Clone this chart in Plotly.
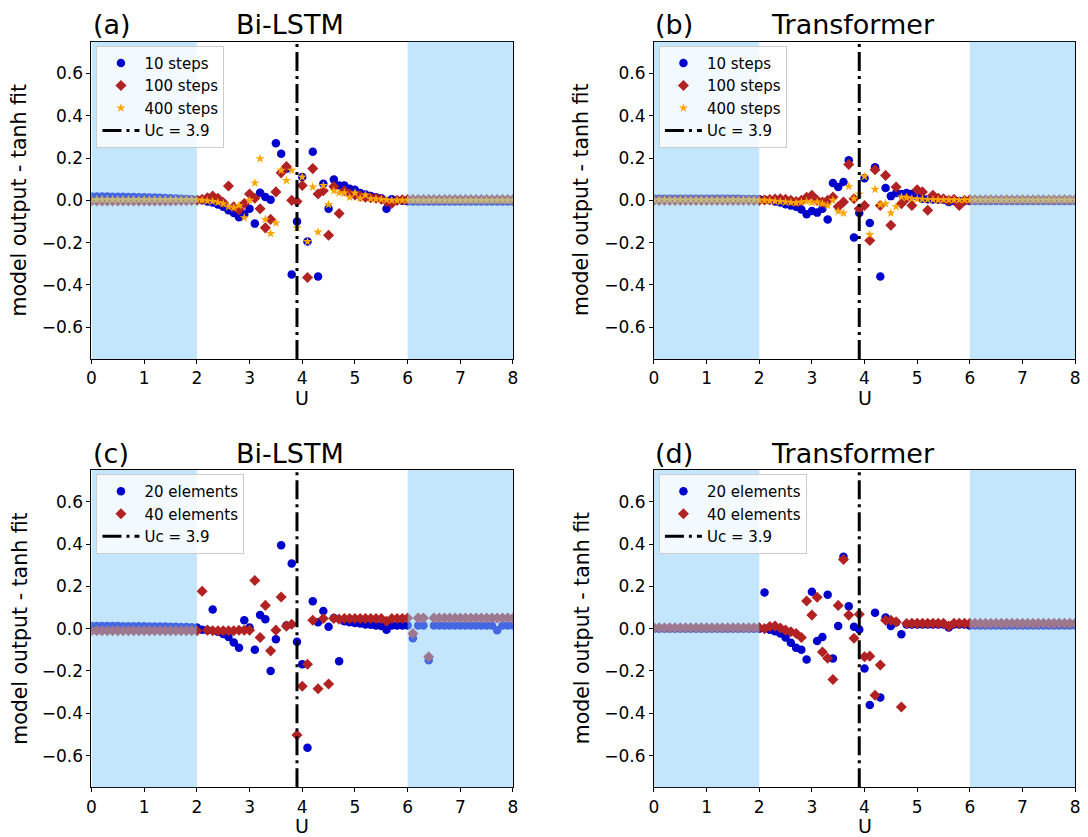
import plotly.graph_objects as go

# ---------------- data ----------------
U = [0.0, 0.1, 0.2, 0.3, 0.4, 0.5, 0.6, 0.7, 0.8, 0.9,
     1.0, 1.1, 1.2, 1.3, 1.4, 1.5, 1.6, 1.7, 1.8, 1.9,
     2.0, 2.1, 2.2, 2.3, 2.4, 2.5, 2.6, 2.7, 2.8, 2.9,
     3.0, 3.1, 3.2, 3.3, 3.4, 3.5, 3.6, 3.7, 3.8, 3.9,
     4.0, 4.1, 4.2, 4.3, 4.4, 4.5, 4.6, 4.7, 4.8, 4.9,
     5.0, 5.1, 5.2, 5.3, 5.4, 5.5, 5.6, 5.7, 5.8, 5.9,
     6.0, 6.1, 6.2, 6.3, 6.4, 6.5, 6.6, 6.7, 6.8, 6.9,
     7.0, 7.1, 7.2, 7.3, 7.4, 7.5, 7.6, 7.7, 7.8, 7.9, 8.0]
UC = 3.9

# (a) Bi-LSTM, time steps
A_10 = [0.018, 0.018, 0.018, 0.018, 0.017, 0.017, 0.017, 0.016, 0.016, 0.015,
        0.015, 0.014, 0.013, 0.012, 0.011, 0.010, 0.009, 0.008, 0.006, 0.005,
        0.003, 0.000, -0.005, -0.010, -0.020, -0.030, -0.047, -0.060, -0.080, -0.066,
        -0.040, -0.110, 0.036, 0.016, 0.003, 0.270, 0.220, 0.150, -0.350, -0.100,
        0.110, -0.195, 0.230, -0.360, 0.078, -0.040, 0.099, 0.070, 0.070, 0.055,
        0.050, 0.035, 0.028, 0.020, 0.015, 0.010, -0.040, 0.005, 0.000, -0.002,
        -0.004, -0.005, -0.005, -0.005, -0.005, -0.005, -0.005, -0.005, -0.005, -0.005,
        -0.005, -0.005, -0.005, -0.005, -0.005, -0.005, -0.005, -0.005, -0.005, -0.005, -0.005]
A_100 = [-0.003, -0.003, -0.003, -0.003, -0.003, -0.003, -0.003, -0.003, -0.003, -0.003,
         -0.003, -0.003, -0.003, -0.003, -0.003, -0.003, -0.002, -0.002, -0.002, -0.001,
         0.000, 0.005, 0.012, 0.020, 0.010, -0.010, 0.068, -0.030, -0.045, -0.015,
         0.030, 0.010, -0.040, -0.130, -0.090, 0.040, 0.130, 0.160, 0.000, -0.005,
         0.070, -0.365, 0.150, 0.030, 0.045, -0.165, 0.065, -0.062, 0.045, 0.030,
         0.025, 0.020, 0.015, 0.012, 0.010, 0.005, -0.005, -0.015, 0.000, 0.003,
         0.004, 0.004, 0.004, 0.004, 0.004, 0.004, 0.004, 0.004, 0.004, 0.004,
         0.004, 0.004, 0.004, 0.004, 0.004, 0.004, 0.004, 0.004, 0.004, 0.004, 0.004]
A_400 = [0.003, 0.003, 0.003, 0.003, 0.003, 0.003, 0.003, 0.003, 0.003, 0.003,
         0.003, 0.003, 0.003, 0.003, 0.003, 0.003, 0.003, 0.003, 0.003, 0.003,
         0.002, 0.000, -0.003, -0.005, -0.010, -0.016, -0.030, -0.035, -0.024, -0.082,
         0.000, 0.082, 0.197, -0.090, -0.157, -0.107, 0.142, 0.094, 0.142, -0.130,
         0.110, -0.195, 0.063, -0.150, 0.070, -0.020, 0.045, 0.035, 0.035, 0.015,
         0.035, 0.010, 0.025, 0.008, 0.006, 0.004, 0.002, 0.000, 0.000, 0.000,
         0.000, 0.000, 0.000, 0.000, 0.000, 0.000, 0.000, 0.000, 0.000, 0.000,
         0.000, 0.000, 0.000, 0.000, 0.000, 0.000, 0.000, 0.000, 0.000, 0.000, 0.000]

# (b) Transformer, time steps
B_10 = [0.008, 0.008, 0.008, 0.008, 0.008, 0.008, 0.008, 0.008, 0.008, 0.008,
        0.008, 0.008, 0.008, 0.008, 0.007, 0.007, 0.007, 0.006, 0.006, 0.006,
        0.005, 0.003, 0.000, -0.005, -0.010, -0.018, -0.024, -0.030, -0.043, -0.066,
        -0.050, -0.058, -0.040, -0.090, 0.082, 0.063, 0.087, 0.190, -0.176, -0.060,
        0.105, -0.107, 0.157, -0.360, 0.058, 0.020, 0.035, 0.030, 0.035, 0.030,
        0.020, 0.008, 0.005, 0.004, 0.004, 0.003, -0.008, -0.003, -0.003, -0.003,
        -0.003, -0.003, -0.003, -0.003, -0.003, -0.003, -0.003, -0.003, -0.003, -0.003,
        -0.003, -0.003, -0.003, -0.003, -0.003, -0.003, -0.003, -0.003, -0.003, -0.003, -0.003]
B_100 = [0.000, 0.000, 0.000, 0.000, 0.000, 0.000, 0.000, 0.000, 0.000, 0.000,
         0.000, 0.000, 0.000, 0.000, 0.000, 0.000, 0.000, 0.000, 0.000, 0.000,
         0.000, 0.002, 0.004, 0.006, 0.008, 0.005, 0.000, -0.005, 0.000, 0.015,
         0.024, 0.000, -0.008, 0.000, 0.016, -0.030, -0.008, 0.170, 0.008, -0.040,
         -0.024, -0.190, 0.145, -0.024, 0.118, -0.118, 0.063, -0.016, 0.010, -0.024,
         0.050, 0.040, -0.047, 0.024, 0.010, 0.008, 0.000, 0.005, -0.024, 0.000,
         0.003, 0.003, 0.003, 0.003, 0.003, 0.003, 0.003, 0.003, 0.003, 0.003,
         0.003, 0.003, 0.003, 0.003, 0.003, 0.003, 0.003, 0.003, 0.003, 0.003, 0.003]
B_400 = [0.002, 0.002, 0.002, 0.002, 0.002, 0.002, 0.002, 0.002, 0.002, 0.002,
         0.002, 0.002, 0.002, 0.002, 0.002, 0.002, 0.002, 0.002, 0.002, 0.002,
         0.000, 0.000, -0.002, -0.004, -0.006, -0.008, -0.010, -0.012, -0.008, -0.005,
         -0.010, -0.008, -0.016, -0.024, 0.000, -0.052, -0.060, 0.066, 0.008, 0.030,
         0.113, -0.162, 0.052, -0.020, -0.016, -0.060, -0.030, 0.016, 0.013, 0.008,
         0.006, 0.005, 0.004, 0.003, 0.003, 0.003, 0.002, 0.002, 0.002, 0.002,
         0.002, 0.002, 0.002, 0.002, 0.002, 0.002, 0.002, 0.002, 0.002, 0.002,
         0.002, 0.002, 0.002, 0.002, 0.002, 0.002, 0.002, 0.002, 0.002, 0.002, 0.002]

# (c) Bi-LSTM, chain elements
C_20 = [0.012, 0.012, 0.012, 0.012, 0.012, 0.012, 0.011, 0.011, 0.011, 0.011,
        0.011, 0.010, 0.010, 0.010, 0.010, 0.009, 0.009, 0.008, 0.008, 0.007,
        0.005, -0.005, -0.008, 0.090, -0.015, -0.025, -0.040, -0.065, -0.090, 0.040,
        0.005, -0.100, 0.065, 0.045, -0.200, -0.050, 0.394, 0.015, 0.308, -0.062,
        -0.168, -0.563, 0.130, 0.030, 0.083, 0.009, 0.050, -0.154, 0.035, 0.030,
        0.027, 0.024, 0.020, 0.018, 0.015, 0.013, -0.005, 0.015, 0.015, 0.015,
        0.015, -0.045, 0.015, 0.015, -0.149, 0.015, 0.015, 0.015, 0.015, 0.015,
        0.015, 0.015, 0.015, 0.015, 0.015, 0.015, 0.015, -0.007, 0.015, 0.015, 0.015]
C_40 = [-0.010, -0.010, -0.010, -0.010, -0.010, -0.010, -0.010, -0.010, -0.010, -0.010,
        -0.010, -0.010, -0.010, -0.010, -0.010, -0.010, -0.010, -0.010, -0.010, -0.010,
        -0.010, 0.177, -0.007, -0.010, -0.010, -0.010, -0.010, -0.010, -0.008, -0.008,
        -0.007, 0.228, -0.042, 0.110, -0.105, -0.007, 0.150, 0.012, 0.021, -0.503,
        -0.272, -0.168, 0.040, -0.284, 0.048, -0.262, 0.048, 0.045, 0.048, 0.048,
        0.048, 0.048, 0.048, 0.048, 0.048, 0.048, 0.035, 0.048, 0.048, 0.048,
        0.050, -0.023, 0.050, 0.050, -0.133, 0.050, 0.050, 0.050, 0.050, 0.050,
        0.050, 0.050, 0.050, 0.050, 0.050, 0.050, 0.050, 0.050, 0.050, 0.050, 0.050]

# (d) Transformer, chain elements
D_20 = [0.000, 0.000, 0.000, 0.000, 0.000, 0.000, 0.000, 0.000, 0.000, 0.000,
        0.000, 0.000, 0.000, 0.000, 0.000, 0.000, 0.000, 0.000, 0.000, 0.000,
        0.000, 0.171, -0.005, -0.012, -0.023, -0.042, -0.067, -0.090, -0.100, -0.146,
        0.174, -0.058, -0.040, 0.160, -0.141, 0.013, 0.340, 0.106, 0.009, -0.004,
        -0.188, -0.361, 0.075, -0.325, 0.053, 0.012, 0.030, -0.026, 0.020, 0.020,
        0.020, 0.020, 0.020, 0.020, 0.020, 0.020, 0.005, 0.020, 0.020, 0.020,
        0.015, 0.015, 0.015, 0.015, 0.015, 0.015, 0.015, 0.015, 0.015, 0.015,
        0.015, 0.015, 0.015, 0.015, 0.015, 0.015, 0.015, 0.015, 0.015, 0.015, 0.015]
D_40 = [0.004, 0.004, 0.004, 0.004, 0.004, 0.004, 0.004, 0.004, 0.004, 0.004,
        0.004, 0.004, 0.004, 0.004, 0.004, 0.004, 0.004, 0.004, 0.004, 0.004,
        0.005, 0.000, 0.010, 0.012, 0.003, -0.007, -0.015, -0.023, -0.042, 0.131,
        0.064, 0.148, -0.110, -0.140, -0.240, 0.110, 0.327, 0.064, -0.045, 0.068,
        -0.133, -0.130, -0.315, -0.172, 0.040, 0.040, 0.032, -0.370, 0.024, 0.025,
        0.025, 0.025, 0.025, 0.025, 0.025, 0.025, 0.012, 0.025, 0.025, 0.025,
        0.025, 0.025, 0.025, 0.025, 0.025, 0.025, 0.025, 0.025, 0.025, 0.025,
        0.025, 0.025, 0.025, 0.025, 0.025, 0.025, 0.025, 0.025, 0.025, 0.025, 0.025]

SHADED = [(0, 2), (6, 8)]
X_TICKS = [0, 1, 2, 3, 4, 5, 6, 7, 8]
Y_TICKS = [-0.6, -0.4, -0.2, 0.0, 0.2, 0.4, 0.6]
Y_RANGE = [-0.75, 0.75]

# ---------------- style ----------------
W, H = 1088, 837
FONT = "DejaVu Sans"
BLUE, RED, ORANGE = "#0000CD", "#B22222", "#FFA500"
MK = {"circle": (BLUE, 8.5), "diamond": (RED, 8.5), "star": (ORANGE, 7)}

panels = [
    dict(n="", tag="(a)", title="Bi-LSTM", box=(87.3, 512.7, 41.7, 359.0), legend="legend",
         series=[("10 steps", A_10, "circle"), ("100 steps", A_100, "diamond"), ("400 steps", A_400, "star")]),
    dict(n="2", tag="(b)", title="Transformer", box=(655.0, 1080.0, 41.7, 359.0), legend="legend2",
         series=[("10 steps", B_10, "circle"), ("100 steps", B_100, "diamond"), ("400 steps", B_400, "star")]),
    dict(n="3", tag="(c)", title="Bi-LSTM", box=(87.3, 512.7, 470.0, 787.3), legend="legend3",
         series=[("20 elements", C_20, "circle"), ("40 elements", C_40, "diamond")]),
    dict(n="4", tag="(d)", title="Transformer", box=(655.0, 1080.0, 470.0, 787.3), legend="legend4",
         series=[("20 elements", D_20, "circle"), ("40 elements", D_40, "diamond")]),
]

fig = go.Figure()
layout = dict(width=W, height=H, margin=dict(l=0, r=0, t=0, b=0),
              paper_bgcolor="white", plot_bgcolor="white", showlegend=True,
              font=dict(family=FONT, color="black"))
shapes, annotations = [], []

for p in panels:
    n = p["n"]
    xa, ya = "x" + n, "y" + n
    x0, x1, y0, y1 = p["box"]
    for name, vals, sym in p["series"]:
        col, sz = MK[sym]
        fig.add_trace(go.Scatter(
            x=U, y=vals, mode="markers", name=name, xaxis=xa, yaxis=ya,
            legend=p["legend"],
            marker=dict(symbol=sym, color=col, size=sz, line=dict(width=0)),
        ))
    fig.add_trace(go.Scatter(
        x=[UC, UC], y=Y_RANGE, mode="lines", name="Uc = %.1f" % UC,
        xaxis=xa, yaxis=ya, legend=p["legend"],
        line=dict(color="black", width=3, dash="19px,5px,3px,5px"),
    ))
    axis_common = dict(showline=True, linecolor="black", linewidth=1, mirror=True,
                       ticks="outside", ticklen=4, tickwidth=1, tickcolor="black",
                       showgrid=False, zeroline=False,
                       tickfont=dict(family=FONT, size=17, color="black"))
    layout["xaxis" + n] = dict(domain=[x0 / W, x1 / W], anchor=ya, range=[0, 8],
                               tickvals=X_TICKS, **axis_common)
    layout["yaxis" + n] = dict(domain=[1 - y1 / H, 1 - y0 / H], anchor=xa, range=Y_RANGE,
                               tickvals=Y_TICKS, tickformat=".1f", **axis_common)
    for s0, s1 in SHADED:
        shapes.append(dict(type="rect", xref=xa, yref=ya + " domain", x0=s0, x1=s1, y0=0, y1=1,
                           fillcolor="lightskyblue", opacity=0.5, line=dict(width=0), layer="above"))
    layout[p["legend"]] = dict(x=(x0 + 5) / W, y=1 - (y0 + 4.0) / H, xanchor="left", yanchor="top",
                               bgcolor="rgba(255,255,255,0.8)", bordercolor="#cccccc", borderwidth=1,
                               font=dict(family=FONT, size=15, color="black"),
                               itemwidth=37, tracegroupgap=0)
    annotations.append(dict(text=p["tag"], xref="paper", yref="paper", x=(x0 - 1) / W,
                            y=1 - (y0 - 17) / H, xanchor="left", yanchor="middle", showarrow=False,
                            font=dict(family=FONT, size=27, color="black")))
    annotations.append(dict(text=p["title"], xref="paper", yref="paper", x=((x0 + x1) / 2 - 12) / W,
                            y=1 - (y0 - 17) / H, xanchor="center", yanchor="middle", showarrow=False,
                            font=dict(family=FONT, size=27, color="black")))
    annotations.append(dict(text="U", xref="paper", yref="paper", x=((x0 + x1) / 2) / W,
                            y=1 - (y1 + 39) / H, xanchor="center", yanchor="middle", showarrow=False,
                            font=dict(family=FONT, size=19, color="black")))
    annotations.append(dict(text="model output - tanh fit", xref="paper", yref="paper",
                            x=(x0 - 73) / W, y=1 - ((y0 + y1) / 2) / H, textangle=-90,
                            xanchor="center", yanchor="middle", showarrow=False,
                            font=dict(family=FONT, size=20.5, color="black")))

layout["shapes"] = shapes
layout["annotations"] = annotations
fig.update_layout(**layout)
fig.write_html("out.html")
